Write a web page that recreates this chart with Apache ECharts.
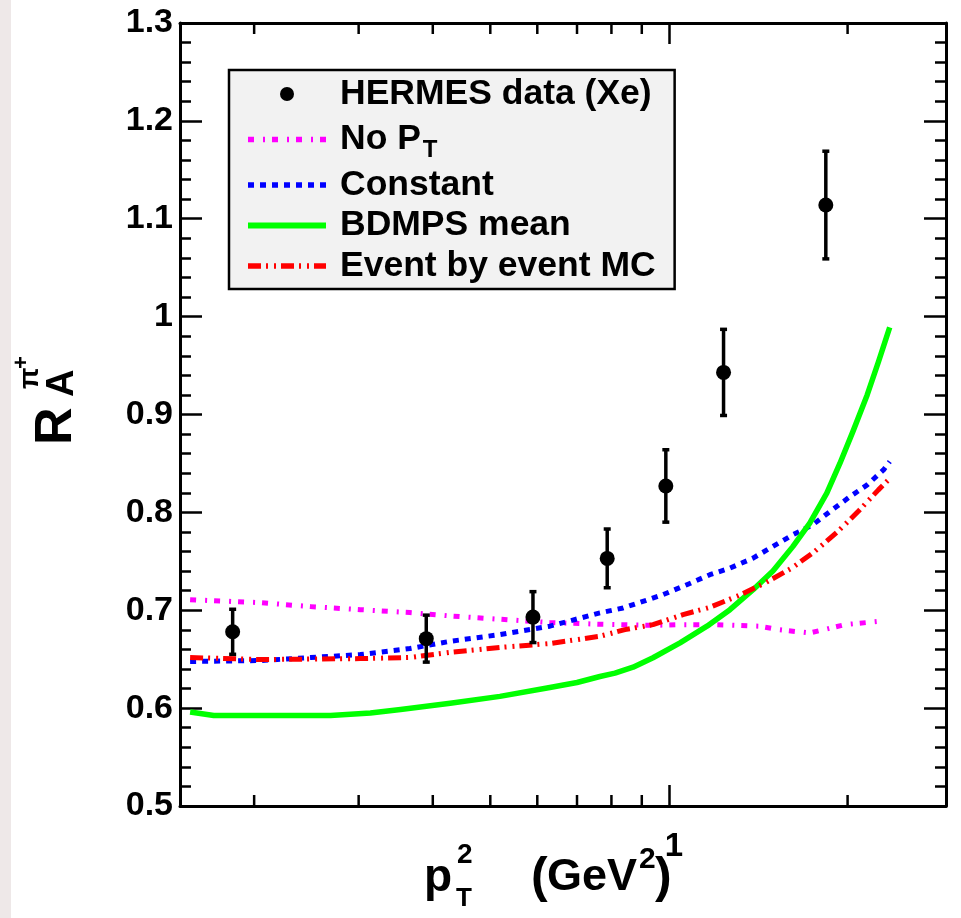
<!DOCTYPE html>
<html><head><meta charset="utf-8">
<script src="https://cdn.jsdelivr.net/npm/echarts@6/dist/echarts.min.js"></script>
<style>html,body{margin:0;padding:0;background:#fff;} #c{width:961px;height:918px;}</style>
</head><body><div id="c"></div>
<script>
// ---------- data ----------
const xRange = [0.15, 2.93];
const yRange = [0.5, 1.3];
const yTickStep = 0.1;
const xMinorTicks = [0.2, 0.3, 0.4, 0.5, 0.6, 0.7, 0.8, 0.9, 2];
const xMajorLabels = [1];

const hermesX   = [0.184, 0.390, 0.590, 0.787, 0.988, 1.236, 1.838];
const hermesY   = [0.678, 0.671, 0.693, 0.753, 0.827, 0.943, 1.114];
const hermesErr = [0.023, 0.024, 0.026, 0.030, 0.037, 0.044, 0.055];

const noPtX = [0.156, 0.205, 0.249, 0.302, 0.366, 0.428, 0.519, 0.630, 0.765, 0.940, 1.044, 1.195, 1.423, 1.538, 1.727, 1.980, 2.272];
const noPtY = [0.7108, 0.7078, 0.7037, 0.7006, 0.6976, 0.6942, 0.6908, 0.6874, 0.6857, 0.6846, 0.6853, 0.6853, 0.6837, 0.6800, 0.6768, 0.6853, 0.6888];

const constX = [0.156, 0.205, 0.249, 0.302, 0.366, 0.428, 0.519, 0.630, 0.765, 0.837, 0.904, 0.977, 1.072, 1.172, 1.267, 1.386, 1.497, 1.617, 1.747, 1.867, 2.019, 2.158, 2.299, 2.355];
const constY = [0.6476, 0.6486, 0.6517, 0.6547, 0.6609, 0.6683, 0.6751, 0.6837, 0.6973, 0.7023, 0.7090, 0.7159, 0.7261, 0.7363, 0.7431, 0.7533, 0.7652, 0.7771, 0.7873, 0.8008, 0.8161, 0.8281, 0.8434, 0.8519];

const bdmpsX = [0.156, 0.171, 0.205, 0.269, 0.314, 0.353, 0.428, 0.519, 0.630, 0.700, 0.765, 0.811, 0.870, 0.940, 1.044, 1.159, 1.267, 1.386, 1.497, 1.617, 1.727, 1.845, 1.941, 2.043, 2.158, 2.255, 2.355];
const bdmpsY = [0.5960, 0.5925, 0.5925, 0.5925, 0.5950, 0.5985, 0.6050, 0.6120, 0.6211, 0.6262, 0.6323, 0.6358, 0.6418, 0.6515, 0.6667, 0.6837, 0.7006, 0.7210, 0.7400, 0.7650, 0.7890, 0.8196, 0.8500, 0.8830, 0.9200, 0.9540, 0.9890];

const eventX = [0.156, 0.205, 0.302, 0.366, 0.428, 0.519, 0.630, 0.765, 0.843, 0.940, 1.056, 1.172, 1.302, 1.451, 1.611, 1.761, 1.926, 2.083, 2.254, 2.373];
const eventY = [0.6517, 0.6496, 0.6506, 0.6517, 0.6570, 0.6620, 0.6660, 0.6734, 0.6802, 0.6853, 0.6955, 0.7030, 0.7142, 0.7278, 0.7431, 0.7601, 0.7805, 0.8008, 0.8230, 0.8365];

const names = ['HERMES data (Xe)', 'No P_T', 'Constant', 'BDMPS mean', 'Event by event MC'];

// ---------- chart ----------
const FONT = "'Liberation Sans', Arial, Helvetica, sans-serif";
const zip = (xs, ys) => xs.map((x, i) => [x, ys[i]]);
const chart = echarts.init(document.getElementById('c'), null, {renderer: 'canvas'});

const axisLineStyle = {color: '#000', width: 3};
const tickStyle = {color: '#000', width: 2.5};

const styles = {
  'No P_T':            {color: '#ff00ff', width: 5, type: [6, 9, 2, 7]},
  'Constant':          {color: '#0000ff', width: 5, type: [6, 6]},
  'BDMPS mean':        {color: '#00ff00', width: 5.5, type: 'solid'},
  'Event by event MC': {color: '#ff0000', width: 5, type: [13, 5, 2, 6, 2, 5]}
};

function xAxisCfg(pos, showLabel) {
  return {
    type: 'log', logBase: 10, min: xRange[0], max: xRange[1], position: pos,
    axisLine: {show: true, onZero: false, lineStyle: axisLineStyle},
    axisTick: {show: true, inside: true, length: 21, lineStyle: tickStyle},
    minorTick: {show: false}, splitLine: {show: false},
    axisLabel: {
      show: showLabel, showMinLabel: false, showMaxLabel: false, margin: 24,
      fontSize: 33, fontWeight: 'bold', color: '#000', fontFamily: FONT,
      padding: [0, 0, 0, 10],
      formatter: v => xMajorLabels.some(m => Math.abs(v - m) < 1e-6) ? String(Math.round(v)) : ''
    }
  };
}
function yAxisCfg(pos, showLabel) {
  return {
    type: 'value', min: yRange[0], max: yRange[1], interval: yTickStep, position: pos,
    axisLine: {show: true, onZero: false, lineStyle: axisLineStyle},
    axisTick: {show: true, inside: true, length: 22, lineStyle: tickStyle},
    minorTick: {show: true, splitNumber: 5, length: 11, lineStyle: tickStyle},
    splitLine: {show: false},
    axisLabel: {
      show: showLabel, margin: 7, fontSize: 34, fontWeight: 'bold', color: '#000', fontFamily: FONT,
      formatter: v => String(Math.round(v * 10) / 10)
    }
  };
}

const errData = hermesX.map((x, i) => [x, hermesY[i] - hermesErr[i], hermesY[i] + hermesErr[i]]);

function txt(text, x, y, size, opts) {
  opts = opts || {};
  return {
    type: 'text', x: x, y: y, silent: true,
    style: {
      text: text, fill: '#000',
      font: (opts.weight || 'bold') + ' ' + size + 'px ' + FONT,
      align: opts.align || 'left', textAlign: opts.align || 'left',
      verticalAlign: 'middle', textVerticalAlign: 'middle'
    }
  };
}

const legendData = names.map(n => {
  if (styles[n]) {
    const s = styles[n];
    return {name: n, itemStyle: {opacity: 0, color: 'transparent', borderWidth: 0},
            lineStyle: {color: s.color, width: s.width + 0.5, type: s.type, opacity: 1}};
  }
  return {name: n, icon: 'circle', itemStyle: {color: '#000', opacity: 1}};
});

function lineSeries(name, xs, ys, extra) {
  const s = styles[name];
  return Object.assign({
    type: 'line', name: name, data: zip(xs, ys), symbol: 'none', showSymbol: false, z: 3,
    lineStyle: {color: s.color, width: s.width, type: s.type, join: 'round'}, itemStyle: {color: s.color}
  }, extra || {});
}

const option = {
  animation: false,
  backgroundColor: '#ffffff',
  grid: {left: 180, right: 15, top: 23, bottom: 112, containLabel: false},
  xAxis: [xAxisCfg('bottom', true), xAxisCfg('top', false)],
  yAxis: [yAxisCfg('left', true), yAxisCfg('right', false)],
  legend: {
    orient: 'vertical', left: 229, top: 70,
    data: legendData,
    backgroundColor: '#f2f2f2', borderColor: '#000', borderWidth: 2.5, borderRadius: 0,
    padding: [6, 19, 5, 16],
    itemWidth: 78, itemHeight: 14, itemGap: 4.5,
    selectedMode: false,
    formatter: n => n === 'No P_T' ? '{t|No P}{s|T}' : '{t|' + n + '}',
    textStyle: {
      color: '#000', fontFamily: FONT, fontWeight: 'bold', fontSize: 35.5,
      rich: {
        t: {fontSize: 35.5, fontWeight: 'bold', fontFamily: FONT, color: '#000', lineHeight: 40, padding: [0, 0, 0, 9]},
        s: {fontSize: 24, fontWeight: 'bold', fontFamily: FONT, color: '#000', lineHeight: 40, padding: [22, 0, 0, 2]}
      }
    }
  },
  series: [
    lineSeries('No P_T', noPtX, noPtY),
    lineSeries('Constant', constX, constY),
    lineSeries('BDMPS mean', bdmpsX, bdmpsY),
    lineSeries('Event by event MC', eventX, eventY),
    {
      type: 'custom', name: 'errors', data: errData, z: 4, silent: true,
      encode: {x: 0, y: [1, 2]},
      renderItem: (params, api) => {
        const lo = api.coord([api.value(0), api.value(1)]);
        const hi = api.coord([api.value(0), api.value(2)]);
        const s = {stroke: '#000', lineWidth: 3.5};
        return {type: 'group', children: [
          {type: 'line', shape: {x1: lo[0], y1: lo[1], x2: hi[0], y2: hi[1]}, style: s},
          {type: 'line', shape: {x1: lo[0] - 3.5, y1: lo[1], x2: lo[0] + 3.5, y2: lo[1]}, style: s},
          {type: 'line', shape: {x1: hi[0] - 3.5, y1: hi[1], x2: hi[0] + 3.5, y2: hi[1]}, style: s}
        ]};
      }
    },
    {
      type: 'scatter', name: 'HERMES data (Xe)', data: zip(hermesX, hermesY), z: 5,
      symbol: 'circle', symbolSize: 15, itemStyle: {color: '#000', opacity: 1}
    },
    {
      type: 'custom', name: 'xminor', data: xMinorTicks.map(v => [v, yRange[0]]), z: 6, silent: true,
      encode: {x: 0, y: 1}, clip: false,
      renderItem: (params, api) => {
        const v = api.value(0);
        const b = api.coord([v, yRange[0]]);
        const t = api.coord([v, yRange[1]]);
        const s = {stroke: '#000', lineWidth: 2.5};
        return {type: 'group', children: [
          {type: 'line', shape: {x1: b[0], y1: b[1], x2: b[0], y2: b[1] - 11}, style: s},
          {type: 'line', shape: {x1: t[0], y1: t[1], x2: t[0], y2: t[1] + 11}, style: s}
        ]};
      }
    }
  ],
  graphic: [
    {type: 'rect', x: 0, y: 0, shape: {width: 11, height: 918}, style: {fill: '#eee8e8'}, silent: true, z: -1},
    // x-axis title: p_T^2 (GeV^2)
    txt('p', 424, 878, 46),
    txt('2', 457, 855, 28),
    txt('T', 456, 899, 26),
    txt('(', 531, 878, 50),
    txt('GeV', 637, 878, 45, {align: 'right'}),
    txt('2', 639, 860, 30),
    txt(')', 655, 878, 50),
    // y-axis title: R_A^{pi+}
    {
      type: 'group', x: 57, y: 445, rotation: Math.PI / 2, children: [
        txt('R', 0, 0, 52),
        txt('A', 48, 6, 38),
        txt('\u03c0', 56, -27, 28),
        txt('+', 76, -35, 22)
      ]
    }
  ]
};
chart.setOption(option);
</script>
</body></html>
